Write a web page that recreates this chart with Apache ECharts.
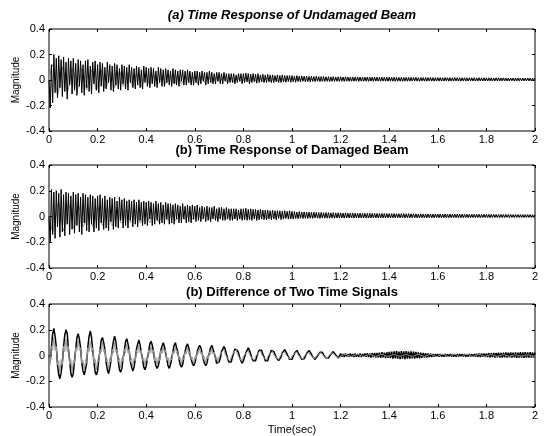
<!DOCTYPE html>
<html>
<head>
<meta charset="utf-8">
<script src="https://cdn.jsdelivr.net/npm/echarts@6/dist/echarts.min.js"></script>
<style>
  html, body { margin: 0; padding: 0; background: #fff; }
  #chart { width: 545px; height: 436px; }
</style>
</head>
<body>
<div id="chart"></div>
<script>
// Sample times (s), 0.005 s apart
const time = [
  0,.005,.01,.015,.02,.025,.03,.035,.04,.045,.05,.055,.06,.065,.07,.075,.08,.085,.09,.095,
  .1,.105,.11,.115,.12,.125,.13,.135,.14,.145,.15,.155,.16,.165,.17,.175,.18,.185,.19,.195,
  .2,.205,.21,.215,.22,.225,.23,.235,.24,.245,.25,.255,.26,.265,.27,.275,.28,.285,.29,.295,
  .3,.305,.31,.315,.32,.325,.33,.335,.34,.345,.35,.355,.36,.365,.37,.375,.38,.385,.39,.395,
  .4,.405,.41,.415,.42,.425,.43,.435,.44,.445,.45,.455,.46,.465,.47,.475,.48,.485,.49,.495,
  .5,.505,.51,.515,.52,.525,.53,.535,.54,.545,.55,.555,.56,.565,.57,.575,.58,.585,.59,.595,
  .6,.605,.61,.615,.62,.625,.63,.635,.64,.645,.65,.655,.66,.665,.67,.675,.68,.685,.69,.695,
  .7,.705,.71,.715,.72,.725,.73,.735,.74,.745,.75,.755,.76,.765,.77,.775,.78,.785,.79,.795,
  .8,.805,.81,.815,.82,.825,.83,.835,.84,.845,.85,.855,.86,.865,.87,.875,.88,.885,.89,.895,
  .9,.905,.91,.915,.92,.925,.93,.935,.94,.945,.95,.955,.96,.965,.97,.975,.98,.985,.99,.995,
  1,1.005,1.01,1.015,1.02,1.025,1.03,1.035,1.04,1.045,1.05,1.055,1.06,1.065,1.07,1.075,1.08,1.085,1.09,1.095,
  1.1,1.105,1.11,1.115,1.12,1.125,1.13,1.135,1.14,1.145,1.15,1.155,1.16,1.165,1.17,1.175,1.18,1.185,1.19,1.195,
  1.2,1.205,1.21,1.215,1.22,1.225,1.23,1.235,1.24,1.245,1.25,1.255,1.26,1.265,1.27,1.275,1.28,1.285,1.29,1.295,
  1.3,1.305,1.31,1.315,1.32,1.325,1.33,1.335,1.34,1.345,1.35,1.355,1.36,1.365,1.37,1.375,1.38,1.385,1.39,1.395,
  1.4,1.405,1.41,1.415,1.42,1.425,1.43,1.435,1.44,1.445,1.45,1.455,1.46,1.465,1.47,1.475,1.48,1.485,1.49,1.495,
  1.5,1.505,1.51,1.515,1.52,1.525,1.53,1.535,1.54,1.545,1.55,1.555,1.56,1.565,1.57,1.575,1.58,1.585,1.59,1.595,
  1.6,1.605,1.61,1.615,1.62,1.625,1.63,1.635,1.64,1.645,1.65,1.655,1.66,1.665,1.67,1.675,1.68,1.685,1.69,1.695,
  1.7,1.705,1.71,1.715,1.72,1.725,1.73,1.735,1.74,1.745,1.75,1.755,1.76,1.765,1.77,1.775,1.78,1.785,1.79,1.795,
  1.8,1.805,1.81,1.815,1.82,1.825,1.83,1.835,1.84,1.845,1.85,1.855,1.86,1.865,1.87,1.875,1.88,1.885,1.89,1.895,
  1.9,1.905,1.91,1.915,1.92,1.925,1.93,1.935,1.94,1.945,1.95,1.955,1.96,1.965,1.97,1.975,1.98,1.985,1.99,1.995,
  2
];

// (a) undamaged beam: response record (black) and companion record (grey)
const undamagedA = [
  0,-.22,.12,-.18,.20,-.10,.17,-.14,.19,-.06,
  .16,-.13,.18,-.09,.14,-.15,.17,-.04,.15,-.11,
  .17,-.08,.13,-.12,.16,-.05,.15,-.10,.12,-.12,
  .15,-.06,.16,-.09,.11,-.11,.14,-.03,.15,-.08,
  .12,-.10,.14,-.05,.13,-.09,.10,-.07,.14,-.02,
  .12,-.08,.11,-.09,.13,-.04,.12,-.07,.09,-.08,
  .12,-.03,.11,-.07,.10,-.08,.12,-.02,.10,-.06,
  .09,-.07,.11,-.04,.10,-.06,.08,-.07,.11,-.02,
  .10,-.05,.09,-.06,.10,-.03,.09,-.05,.07,-.06,
  .10,-.02,.09,-.05,.08,-.05,.09,-.02,.08,-.04,
  .07,-.05,.09,-.03,.08,-.04,.07,-.05,.08,-.01,
  .08,-.04,.07,-.04,.08,-.02,.07,-.04,.06,-.04,
  .07,-.02,.07,-.04,.06,-.03,.07,-.01,.06,-.04,
  .06,-.03,.07,-.02,.06,-.03,.05,-.03,.06,-.01,
  .06,-.03,.05,-.03,.06,-.01,.05,-.03,.05,-.02,
  .05,-.02,.05,-.03,.04,-.02,.05,-.01,.05,-.03,
  .05,-.02,.055,-.015,.05,-.03,.045,-.02,.05,-.015,
  .045,-.025,.05,-.02,.04,-.015,.045,-.02,.04,-.02,
  .045,-.015,.04,-.02,.04,-.02,.035,-.015,.04,-.02,
  .035,-.02,.04,-.015,.035,-.018,.035,-.012,.035,-.018,
  .035,-.015,.03,-.018,.035,-.012,.03,-.015,.032,-.01,
  .03,-.015,.03,-.012,.028,-.015,.03,-.01,.027,-.013,
  .03,-.01,.027,-.013,.027,-.01,.028,-.012,.025,-.01,
  .026,-.012,.025,-.01,.026,-.012,.024,-.01,.025,-.011,
  .025,-.01,.024,-.011,.025,-.009,.024,-.011,.023,-.01,
  .024,-.01,.023,-.009,.024,-.011,.023,-.009,.023,-.01,
  .023,-.01,.023,-.01,.022,-.009,.023,-.01,.022,-.009,
  .023,-.009,.022,-.01,.022,-.009,.021,-.009,.022,-.01,
  .022,-.01,.021,-.009,.022,-.01,.021,-.01,.02,-.009,
  .021,-.01,.02,-.009,.021,-.01,.02,-.009,.021,-.008,
  .02,-.009,.021,-.009,.019,-.01,.02,-.008,.019,-.009,
  .02,-.009,.019,-.008,.02,-.009,.019,-.009,.019,-.008,
  .019,-.009,.019,-.008,.018,-.009,.019,-.008,.018,-.009,
  .019,-.008,.018,-.009,.019,-.008,.018,-.008,.018,-.009,
  .018,-.008,.018,-.009,.017,-.008,.018,-.008,.017,-.008,
  .018,-.008,.017,-.008,.018,-.007,.017,-.008,.017,-.008,
  .017,-.008,.017,-.007,.017,-.008,.016,-.008,.017,-.007,
  .017,-.007,.016,-.008,.017,-.007,.016,-.008,.016,-.007,
  .016,-.007,.016,-.008,.016,-.007,.016,-.007,.015,-.007,
  .016,-.007,.015,-.007,.016,-.007,.015,-.007,.015,-.007,
  .015
];
const undamagedB = [
  0,.05,.10,.12,.08,0,-.07,-.11,-.09,-.02,
  .06,.10,.09,.03,-.05,-.10,-.09,-.03,.05,.09,
  .09,.04,-.04,-.09,-.09,-.03,.04,.09,.08,.02,
  -.05,-.08,-.07,-.01,.05,.08,.07,.01,-.05,-.08,
  -.06,0,.06,.08,.05,-.01,-.06,-.07,-.04,.02,
  .06,.07,.04,-.02,-.06,-.06,-.02,.04,.07,.05,
  0,-.05,-.06,-.03,.02,.06,.06,.02,-.03,-.05,
  -.04,.01,.05,.05,.02,-.03,-.05,-.03,.01,.05,
  .05,.02,-.02,-.04,-.03,.01,.04,.04,.01,-.03,
  -.04,-.02,.02,.04,.04,0,-.03,-.04,-.01,.03,
  .04,.02,-.02,-.03,-.02,.02,.04,.03,-.01,-.03,
  -.03,0,.03,.03,.01,-.02,-.03,-.01,.02,.03,
  .02,-.01,-.03,-.02,.01,.03,.03,0,-.02,-.02,
  0,.02,.03,.01,-.02,-.02,0,.02,.025,.01,
  -.015,-.02,0,.02,.02,0,-.015,-.02,0,.02,
  .02,.005,-.015,-.015,0,.02,.02,0,-.01,-.015,
  0,.015,.02,.005,-.01,-.015,0,.015,.015,0,
  -.01,-.01,0,.015,.015,0,-.01,-.01,.005,.015,
  .012,0,-.01,-.008,.005,.012,.012,0,-.008,-.008,
  .002,.012,.01,0,-.008,-.006,.004,.012,.01,0,
  .002,.008,.01,.006,0,-.004,-.002,.004,.009,.008,
  .002,-.003,-.004,.001,.007,.009,.005,-.001,-.004,-.002,
  .004,.008,.008,.003,-.002,-.004,0,.006,.009,.006,
  0,-.004,-.003,.002,.008,.009,.004,-.002,-.004,-.001,
  .005,.009,.007,.002,-.003,-.003,.002,.007,.008,.004,
  -.001,-.004,-.002,.004,.008,.008,.003,-.002,-.003,0,
  .006,.008,.006,.001,-.003,-.003,.002,.007,.008,.004,
  -.001,-.003,-.001,.004,.008,.007,.002,-.002,-.003,.001,
  .006,.008,.005,0,-.003,-.002,.003,.007,.007,.003,
  -.002,-.003,0,.005,.008,.006,.001,-.002,-.002,.002,
  .006,.007,.004,0,-.003,-.001,.004,.007,.006,.002,
  -.002,-.002,.001,.005,.007,.005,.001,-.002,-.001,.003,
  .006,.007,.004,-.001,-.002,0,.004,.007,.006,.002,
  -.002,-.002,.001,.005,.007,.005,.001,-.002,-.001,.003,
  .006,.006,.003,-.001,-.002,0,.004,.006,.005,.001,
  -.002,-.001,.002,.005,.006,.004,0,-.002,0,.003,
  .006,.006,.003,-.001,-.002,.001,.004,.006,.005,.001,
  -.002,-.001,.002,.005,.006,.004,0,-.001,0,.003,
  .005,.005,.003,0,-.002,.001,.004,.005,.004,.001,
  -.001,-.001,.002,.004,.005,.003,0,-.001,.001,.003,
  .004
];

// (b) damaged beam
const damagedA = [
  0,-.20,.21,-.14,.19,-.17,.20,-.08,.18,-.16,
  .21,-.12,.17,-.15,.19,-.06,.18,-.14,.16,-.10,
  .19,-.13,.17,-.07,.18,-.12,.15,-.14,.18,-.05,
  .17,-.11,.15,-.12,.17,-.06,.16,-.12,.14,-.09,
  .16,-.11,.17,-.05,.14,-.10,.16,-.09,.13,-.11,
  .15,-.04,.14,-.10,.15,-.08,.12,-.09,.15,-.03,
  .13,-.09,.14,-.07,.12,-.09,.13,-.03,.12,-.08,
  .13,-.06,.11,-.08,.13,-.03,.11,-.07,.12,-.06,
  .11,-.07,.12,-.02,.11,-.07,.10,-.06,.12,-.03,
  .10,-.06,.11,-.05,.09,-.06,.11,-.02,.10,-.06,
  .10,-.05,.09,-.06,.10,-.02,.09,-.05,.08,-.05,
  .10,-.02,.08,-.05,.09,-.04,.08,-.05,.09,-.02,
  .08,-.04,.09,-.03,.07,-.04,.08,-.02,.07,-.04,
  .08,-.03,.07,-.04,.07,-.02,.08,-.03,.06,-.04,
  .07,-.02,.07,-.03,.06,-.03,.07,-.02,.06,-.03,
  .06,-.03,.06,-.02,.06,-.03,.05,-.02,.06,-.03,
  .06,-.025,.065,-.03,.055,-.025,.06,-.03,.055,-.02,
  .055,-.03,.05,-.025,.055,-.02,.05,-.025,.05,-.025,
  .05,-.02,.045,-.025,.05,-.02,.045,-.025,.045,-.015,
  .045,-.025,.04,-.02,.045,-.015,.04,-.02,.045,-.02,
  .04,-.02,.038,-.015,.035,-.018,.038,-.014,.035,-.016,
  .036,-.014,.034,-.016,.034,-.013,.032,-.015,.034,-.012,
  .032,-.013,.031,-.015,.032,-.012,.03,-.013,.031,-.013,
  .03,-.013,.029,-.012,.03,-.013,.028,-.012,.029,-.013,
  .028,-.012,.027,-.013,.028,-.011,.026,-.012,.027,-.011,
  .026,-.012,.026,-.011,.025,-.012,.026,-.011,.025,-.011,
  .025,-.011,.024,-.012,.025,-.011,.024,-.011,.024,-.01,
  .024,-.011,.023,-.011,.024,-.01,.023,-.011,.023,-.01,
  .023,-.011,.022,-.01,.023,-.011,.022,-.01,.022,-.01,
  .022,-.01,.022,-.011,.021,-.01,.022,-.01,.021,-.01,
  .021,-.01,.021,-.01,.02,-.011,.021,-.01,.02,-.009,
  .02,-.01,.02,-.009,.02,-.01,.019,-.01,.02,-.009,
  .019,-.01,.02,-.009,.019,-.009,.019,-.01,.018,-.009,
  .019,-.009,.018,-.009,.019,-.009,.018,-.009,.018,-.009,
  .018,-.009,.018,-.008,.017,-.009,.018,-.009,.017,-.008,
  .018,-.009,.017,-.008,.017,-.009,.017,-.008,.017,-.008,
  .017,-.008,.017,-.009,.016,-.008,.017,-.008,.016,-.008,
  .016,-.008,.016,-.008,.016,-.008,.016,-.007,.016,-.008,
  .016,-.008,.015,-.008,.016,-.007,.015,-.008,.015,-.007,
  .015,-.008,.015,-.007,.015,-.007,.015,-.007,.014,-.007,
  .014
];
const damagedB = [
  0,-.04,-.09,-.12,-.10,-.04,.03,.09,.11,.07,
  0,-.07,-.11,-.09,-.03,.05,.10,.10,.04,-.04,
  -.09,-.10,-.05,.03,.09,.09,.04,-.03,-.08,-.09,
  -.04,.03,.08,.08,.03,-.04,-.08,-.07,-.02,.04,
  .08,.07,.02,-.04,-.07,-.06,-.01,.05,.07,.06,
  .01,-.05,-.07,-.05,0,.05,.07,.05,0,-.05,
  -.06,-.04,.01,.05,.06,.04,-.01,-.05,-.06,-.03,
  .02,.05,.05,.02,-.02,-.05,-.05,-.02,.03,.05,
  .05,.01,-.03,-.05,-.04,0,.04,.05,.03,-.01,
  -.04,-.04,-.02,.02,.04,.04,.01,-.03,-.04,-.02,
  .02,.04,.03,0,-.03,-.04,-.02,.01,.03,.03,
  .01,-.02,-.03,-.02,.01,.03,.03,.01,-.02,-.03,
  -.02,.01,.03,.025,0,-.02,-.025,-.01,.015,.025,
  .02,-.005,-.02,-.02,0,.02,.025,.01,-.01,-.02,
  -.015,.005,.02,.02,.005,-.015,-.02,-.01,.01,.02,
  .015,0,-.015,-.015,0,.015,.018,.005,-.01,-.015,
  -.01,.005,.015,.014,0,-.012,-.014,-.005,.01,.014,
  .01,-.002,-.012,-.01,.002,.012,.012,.002,-.008,-.01,
  -.006,.004,.012,.01,0,-.008,-.01,-.004,.006,.01,
  .008,0,-.008,-.008,0,.008,.01,.004,-.004,-.008,
  .006,.002,-.004,-.006,-.002,.004,.008,.007,.002,-.004,
  -.005,-.001,.005,.008,.006,0,-.004,-.004,.001,.006,
  .007,.004,-.002,-.004,-.002,.003,.007,.006,.001,-.003,
  -.004,0,.005,.007,.005,0,-.003,-.003,.002,.006,
  .006,.003,-.002,-.004,-.001,.004,.006,.005,0,-.003,
  -.003,.001,.005,.006,.004,-.001,-.003,-.002,.002,.005,
  .006,.002,-.002,-.003,-.001,.004,.006,.004,0,-.003,
  -.003,.001,.005,.006,.003,-.001,-.003,-.002,.003,.005,
  .005,.002,-.002,-.003,0,.004,.006,.004,0,-.002,
  -.002,.001,.004,.005,.003,-.001,-.002,-.001,.003,.005,
  .005,.002,-.002,-.002,0,.004,.005,.003,0,-.002,
  -.002,.001,.004,.005,.003,0,-.002,-.001,.003,.004,
  .004,.002,-.001,-.002,0,.003,.005,.003,0,-.002,
  -.002,.001,.004,.004,.002,0,-.002,-.001,.002,.004,
  .004,.001,-.001,-.002,0,.003,.004,.003,0,-.001,
  -.002,.001,.003,.004,.002,0,-.001,-.001,.002,.004,
  .004,.001,-.001,-.002,.001,.003,.004,.002,0,-.001,
  -.001,.001,.003,.004,.002,0,-.001,0,.002,.003,
  .003,.001,-.001,-.001,.001,.003,.004,.002,0,-.001,
  -.001,.001,.003,.003,.002,0,-.001,0,.002,.003,
  .003
];

// (c) difference of the two time signals
const differenceA = [
  0,-.05,.06,.17,.21,.15,.07,-.07,-.15,-.18,
  -.13,-.06,.07,.16,.20,.17,.05,-.04,-.14,-.17,
  -.14,-.04,.05,.14,.17,.13,.06,-.06,-.12,-.15,
  -.11,-.06,.07,.15,.19,.14,.04,-.05,-.13,-.15,
  -.12,-.03,.04,.12,.14,.10,.05,-.05,-.11,-.14,
  -.10,-.04,.05,.11,.15,.11,.03,-.04,-.11,-.13,
  -.10,-.02,.03,.11,.13,.09,.04,-.05,-.09,-.12,
  -.09,-.03,.05,.09,.12,.08,.02,-.03,-.09,-.11,
  -.08,-.02,.03,.09,.11,.08,.03,-.04,-.08,-.10,
  -.08,-.03,.04,.07,.10,.07,.02,-.03,-.08,-.10,
  -.07,-.02,.03,.08,.10,.06,.03,-.03,-.07,-.09,
  -.07,-.01,.03,.07,.09,.06,.01,-.03,-.06,-.08,
  -.06,-.02,.03,.06,.08,.06,.02,-.03,-.06,-.08,
  -.06,-.01,.02,.06,.08,.05,.02,-.02,-.06,-.07,
  -.05,-.02,.03,.05,.07,.05,.01,-.02,-.05,-.06,
  -.05,-.01,.02,.05,.06,.04,.02,-.02,-.04,-.06,
  -.04,-.01,.02,.04,.06,.04,.01,-.02,-.04,-.05,
  -.04,-.01,.02,.04,.05,.04,.01,-.01,-.04,-.05,
  -.04,-.01,.015,.04,.05,.03,.01,-.015,-.03,-.04,
  -.03,-.01,.02,.035,.045,.03,.01,-.01,-.03,-.04,
  -.03,-.005,.015,.03,.04,.03,.005,-.01,-.03,-.035,
  -.025,-.005,.015,.03,.04,.025,.01,-.01,-.025,-.03,
  -.025,-.005,.01,.025,.035,.025,.005,-.01,-.02,-.03,
  -.02,-.005,.01,.025,.03,.02,.005,-.01,-.02,-.025,
  .015,-.01,.012,-.012,.015,-.008,.012,-.01,.015,-.01,
  .012,-.012,.015,-.01,.012,-.01,.015,-.012,.012,-.01,
  .015,-.01,.018,-.012,.015,-.015,.018,-.012,.02,-.015,
  .02,-.015,.022,-.018,.025,-.015,.022,-.02,.025,-.018,
  .028,-.02,.03,-.025,.032,-.022,.035,-.025,.03,-.028,
  .035,-.025,.032,-.028,.035,-.025,.03,-.025,.032,-.022,
  .03,-.025,.028,-.02,.025,-.022,.022,-.018,.02,-.015,
  .018,-.015,.015,-.012,.015,-.012,.012,-.01,.012,-.01,
  .012,-.01,.012,-.008,.01,-.01,.012,-.008,.01,-.01,
  .012,-.008,.01,-.01,.012,-.008,.01,-.008,.012,-.01,
  .01,-.008,.012,-.01,.01,-.008,.012,-.008,.01,-.01,
  .012,-.01,.014,-.01,.015,-.012,.015,-.01,.016,-.012,
  .016,-.012,.018,-.014,.018,-.012,.02,-.015,.02,-.014,
  .022,-.015,.02,-.016,.022,-.015,.024,-.016,.022,-.015,
  .024,-.016,.022,-.015,.024,-.018,.022,-.016,.025,-.016,
  .024,-.018,.025,-.016,.024,-.017,.025,-.016,.024,-.017,
  .022
];
const differenceB = [
  0,-.07,.07,.04,.14,.04,.07,-.07,-.04,-.14,
  -.03,-.07,.07,.03,.13,.03,.07,-.07,-.03,-.13,
  -.04,-.06,.06,.04,.12,.04,.06,-.06,-.04,-.12,
  -.03,-.06,.06,.03,.11,.03,.06,-.06,-.03,-.11,
  -.03,-.05,.05,.03,.10,.03,.05,-.05,-.03,-.10,
  -.02,-.05,.05,.02,.10,.03,.05,-.05,-.02,-.10,
  -.02,-.05,.05,.02,.09,.02,.05,-.05,-.02,-.09,
  -.02,-.04,.04,.02,.085,.02,.04,-.04,-.02,-.085,
  -.015,-.04,.04,.015,.075,.015,.04,-.04,-.015,-.075,
  -.015,-.04,.04,.015,.07,.02,.04,-.04,-.015,-.07,
  -.016,-.034,.034,.016,.065,.016,.034,-.034,-.016,-.065,
  -.012,-.032,.032,.012,.06,.012,.032,-.032,-.012,-.06,
  -.012,-.03,.03,.012,.058,.012,.03,-.03,-.012,-.058,
  -.01,-.029,.029,.01,.053,.01,.029,-.029,-.01,-.053,
  -.009,-.024,.024,.009,.045,.009,.024,-.024,-.009,-.045,
  -.009,-.024,.024,.009,.044,.009,.024,-.024,-.009,-.044,
  -.008,-.02,.02,.008,.037,.008,.02,-.02,-.008,-.037,
  -.008,-.019,.019,.008,.036,.008,.019,-.019,-.008,-.036,
  -.006,-.016,.016,.006,.03,.006,.016,-.016,-.006,-.03,
  -.006,-.015,.015,.006,.029,.006,.015,-.015,-.006,-.029,
  -.004,-.015,.015,.004,.028,.004,.015,-.015,-.004,-.028,
  -.004,-.012,.012,.004,.023,.004,.012,-.012,-.004,-.023,
  -.004,-.012,.012,.004,.022,.004,.012,-.012,-.004,-.022,
  -.002,-.011,.011,.002,.02,.002,.011,-.011,-.002,-.02,
  -.006,-.001,.004,.007,.009,.007,.002,-.003,-.006,-.007,
  -.006,-.001,.003,.007,.009,.006,.002,-.003,-.006,-.007,
  -.006,0,.004,.007,.008,.006,.002,-.002,-.006,-.007,
  -.005,0,.004,.007,.008,.006,.001,-.003,-.006,-.006,
  -.005,0,.003,.006,.008,.006,.002,-.002,-.005,-.006,
  -.005,0,.003,.006,.008,.005,.001,-.002,-.005,-.006,
  -.005,0,.004,.007,.009,.006,.002,-.002,-.006,-.007,
  -.006,-.001,.004,.008,.01,.007,.002,-.003,-.007,-.008,
  -.007,-.001,.005,.009,.011,.008,.002,-.003,-.008,-.009,
  -.008,-.001,.005,.009,.011,.008,.002,-.004,-.008,-.009,
  -.008,-.001,.004,.008,.01,.007,.002,-.003,-.007,-.008,
  -.007,-.001,.004,.007,.009,.006,.001,-.003,-.006,-.007,
  -.006,-.001,.003,.006,.008,.005,.001,-.002,-.005,-.006,
  -.005,0,.003,.005,.007,.005,.001,-.002,-.005,-.006,
  -.005,0,.003,.005,.006,.004,.001,-.002,-.004,-.005,
  -.004,0,.002,.004,.006,.004,.001,-.002,-.004,-.005,
  -.003
];

const panelTitles = [
  '(a) Time Response of Undamaged Beam',
  '(b) Time Response of Damaged Beam',
  '(b) Difference of Two Time Signals'
];
const yAxisTitle = 'Magnitude';
const xAxisTitle = 'Time(sec)';

const FONT = 'Liberation Sans, Arial, Helvetica, sans-serif';
const gridTops = [29, 165, 304];
const gridHeights = [102, 103, 104];
const titleY = [15, 150, 292];

const grids = gridTops.map((top, i) => ({
  left: 49, width: 486, top: top, height: gridHeights[i],
  show: true, borderColor: '#000', borderWidth: 1, backgroundColor: 'transparent'
}));

const tickStyle = { inside: true, length: 3, lineStyle: { color: '#000', width: 1 } };
const xAxes = [];
const yAxes = [];
for (let g = 0; g < 3; g++) {
  ['bottom', 'top'].forEach(pos => {
    xAxes.push({
      type: 'value', gridIndex: g, position: pos, min: 0, max: 2, interval: 0.2,
      axisLine: { show: false, onZero: false }, axisTick: tickStyle, splitLine: { show: false },
      axisLabel: { show: pos === 'bottom', color: '#000', fontSize: 11, fontFamily: FONT, margin: 3 },
      name: (g === 2 && pos === 'bottom') ? xAxisTitle : '',
      nameLocation: 'middle', nameGap: 17,
      nameTextStyle: { color: '#000', fontSize: 11, fontFamily: FONT }
    });
  });
  ['left', 'right'].forEach(pos => {
    yAxes.push({
      type: 'value', gridIndex: g, position: pos, min: -0.4, max: 0.4, interval: 0.2,
      axisLine: { show: false, onZero: false }, axisTick: tickStyle, splitLine: { show: false },
      axisLabel: { show: pos === 'left', color: '#000', fontSize: 11, fontFamily: FONT, margin: 4 },
      name: pos === 'left' ? yAxisTitle : '',
      nameLocation: 'middle', nameGap: 28, nameRotate: 90, nameMoveOverlap: false,
      nameTextStyle: { color: '#000', fontSize: 10, fontFamily: FONT }
    });
  });
}

function trace(values, g, color, width) {
  return {
    type: 'line', xAxisIndex: g * 2, yAxisIndex: g * 2,
    data: time.map((t, i) => [t, values[i]]),
    showSymbol: false, symbol: 'none', silent: true,
    lineStyle: { color: color, width: width }
  };
}

const GREY = '#9c9c9c';
const series = [
  trace(undamagedB, 0, GREY, 1),
  trace(undamagedA, 0, '#000', 1),
  trace(damagedB, 1, GREY, 1),
  trace(damagedA, 1, '#000', 1),
  // the grey difference record sits over the black one, filling its loops
  trace(differenceA, 2, '#000', 1.5),
  trace(differenceB, 2, GREY, 1)
];

const titleGraphics = panelTitles.map((txt, i) => ({
  type: 'text', x: 292, y: titleY[i],
  style: {
    text: txt, fill: '#000', fontFamily: FONT, fontSize: 13, fontWeight: 'bold',
    fontStyle: i === 0 ? 'italic' : 'normal',
    textAlign: 'center', textVerticalAlign: 'middle'
  }
}));

const chart = echarts.init(document.getElementById('chart'), null, { renderer: 'canvas' });
chart.setOption({
  animation: false,
  backgroundColor: '#fff',
  grid: grids,
  xAxis: xAxes,
  yAxis: yAxes,
  series: series,
  graphic: titleGraphics
});
</script>
</body>
</html>
